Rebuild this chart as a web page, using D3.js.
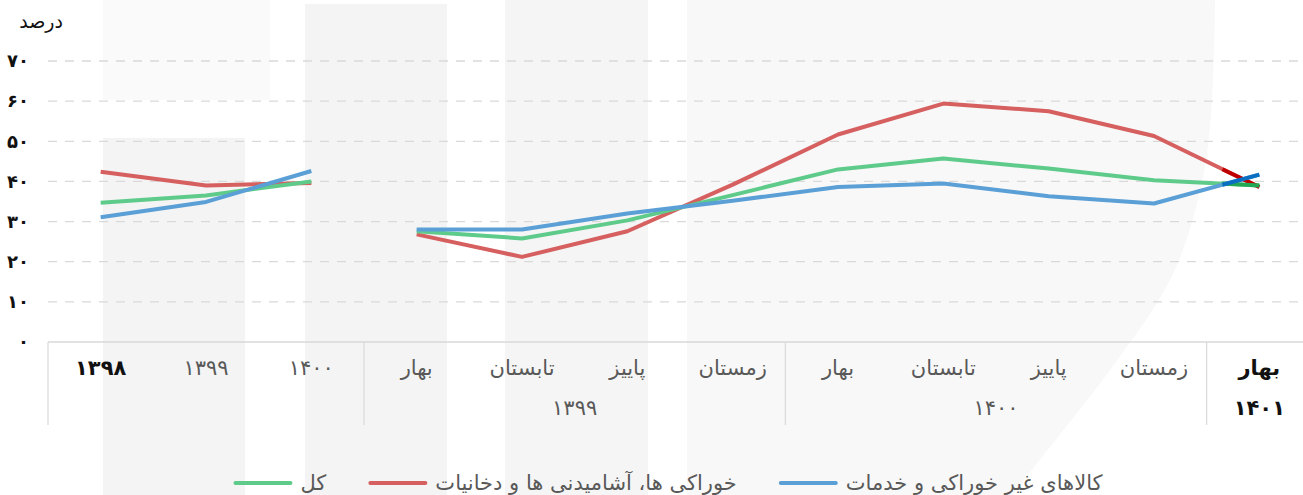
<!DOCTYPE html>
<html lang="fa">

<head>
    <meta charset="UTF-8">
    <title>نرخ تورم</title>
    <script src="https://d3js.org/d3.v7.min.js"></script>
    <style>
        body { margin: 0; background: #fff; }
        text { font-family: "DejaVu Sans", sans-serif; }
    </style>
</head>

<body>
    <script>
        // categories (3 annual + 9 quarterly)
        var categories = ["۱۳۹۸", "۱۳۹۹", "۱۴۰۰", "بهار", "تابستان", "پاییز", "زمستان", "بهار", "تابستان", "پاییز", "زمستان", "بهار"];
        var boldCategory = [true, false, false, false, false, false, false, false, false, false, false, true];
        var groupLabels = ["", "۱۳۹۹", "۱۴۰۰", "۱۴۰۱"];
        var groupSpans = [3, 4, 4, 1];
        var yTicks = [0, 10, 20, 30, 40, 50, 60, 70];

        // series values (percent)
        var totalValues = [34.7, 36.5, 40.0, 27.6, 25.8, 30.3, 36.6, 43.0, 45.7, 43.2, 40.3, 39.0];
        var foodValues = [42.4, 39.0, 39.6, 26.8, 21.2, 27.6, 39.2, 51.7, 59.4, 57.5, 51.3, 38.6];
        var nonFoodValues = [31.1, 34.9, 42.6, 28.0, 28.0, 32.0, 35.2, 38.6, 39.5, 36.3, 34.5, 41.7];
        var seriesNames = ["کل", "خوراکی ها، آشامیدنی ها و دخانیات", "کالاهای غیر خوراکی و خدمات"];

        var breakAfter = 2; // annual part and quarterly part are not joined

        // drawing order: red at the back, blue on top
        var series = [
            { name: seriesNames[1], values: foodValues, color: "#d65f5f", dark: "#c00000" },
            { name: seriesNames[0], values: totalValues, color: "#5ecb8b", dark: "#22a855" },
            { name: seriesNames[2], values: nonFoodValues, color: "#5a9fd6", dark: "#0a6fc2" }
        ];

        var width = 1303, height = 495;
        var faDigits = function (n) { return String(n).replace(/\d/g, function (c) { return "۰۱۲۳۴۵۶۷۸۹"[c]; }); };

        var svg = d3.select("body").append("svg")
            .attr("width", width)
            .attr("height", height);

        // faint watermark behind the chart
        var wm = svg.append("g");
        wm.append("rect").attr("x", 103).attr("y", 0).attr("width", 167).attr("height", 100).attr("fill", "#fafafa");
        wm.append("rect").attr("x", 103).attr("y", 138).attr("width", 142).attr("height", height - 138).attr("fill", "#f4f4f4");
        wm.append("rect").attr("x", 305).attr("y", 4).attr("width", 142).attr("height", height - 4).attr("fill", "#f4f4f4");
        wm.append("rect").attr("x", 505).attr("y", 0).attr("width", 143).attr("height", height).attr("fill", "#f5f5f5");
        var arcEdge = [[1215, 0], [1212, 100], [1198, 200], [1170, 280], [1110, 370], [1050, 447], [1012, 495]];
        wm.append("path")
            .attr("d", d3.line().curve(d3.curveMonotoneY)(arcEdge) + "L687,495L687,0Z")
            .attr("fill", "#f8f8f8");

        var x = d3.scaleBand()
            .domain(d3.range(categories.length))
            .range([48, 1312]);

        var y = d3.scaleLinear()
            .domain([0, 70])
            .range([342, 61]);

        // grid lines
        svg.append("g")
            .selectAll("line")
            .data(yTicks.filter(function (d) { return d > 0; }))
            .enter().append("line")
            .attr("x1", 48).attr("x2", width)
            .attr("y1", function (d) { return y(d); })
            .attr("y2", function (d) { return y(d); })
            .attr("stroke", "#d9d9d9")
            .attr("stroke-width", 1.3)
            .attr("stroke-dasharray", "9,8");

        // y axis labels
        var yAxis = d3.axisLeft(y).tickValues(yTicks).tickSize(0).tickPadding(0).tickFormat(faDigits);
        svg.append("g")
            .attr("transform", "translate(29,0)")
            .call(yAxis)
            .call(function (g) { g.select(".domain").remove(); })
            .selectAll("text")
            .attr("font-family", "DejaVu Sans")
            .attr("font-size", 18)
            .attr("font-weight", "bold")
            .attr("fill", "#111");

        svg.append("text")
            .attr("x", 63).attr("y", 28)
            .attr("text-anchor", "end")
            .attr("font-size", 19)
            .attr("fill", "#111")
            .text("درصد");

        // category axis
        svg.append("line")
            .attr("x1", 48).attr("x2", width)
            .attr("y1", y(0)).attr("y2", y(0))
            .attr("stroke", "#d9d9d9").attr("stroke-width", 1.3);

        var bounds = [0];
        groupSpans.forEach(function (s, i) { bounds.push(bounds[i] + s); });

        svg.append("g")
            .selectAll("line")
            .data(bounds.slice(0, -1))
            .enter().append("line")
            .attr("x1", function (d) { return x(d); })
            .attr("x2", function (d) { return x(d); })
            .attr("y1", y(0)).attr("y2", 425)
            .attr("stroke", "#d9d9d9").attr("stroke-width", 1.2);

        svg.append("g")
            .selectAll("text")
            .data(categories)
            .enter().append("text")
            .attr("x", function (d, i) { return x(i) + x.bandwidth() / 2; })
            .attr("y", 375)
            .attr("text-anchor", "middle")
            .attr("font-size", 21)
            .attr("font-weight", function (d, i) { return boldCategory[i] ? "bold" : "normal"; })
            .attr("fill", function (d, i) { return boldCategory[i] ? "#111" : "#595959"; })
            .text(function (d) { return d; });

        svg.append("g")
            .selectAll("text")
            .data(groupLabels)
            .enter().append("text")
            .attr("x", function (d, i) { return (x(bounds[i]) + x(bounds[i + 1] - 1) + x.bandwidth()) / 2; })
            .attr("y", 415)
            .attr("text-anchor", "middle")
            .attr("font-size", 21)
            .attr("font-weight", function (d, i) { return i === 3 ? "bold" : "normal"; })
            .attr("fill", function (d, i) { return i === 3 ? "#111" : "#595959"; })
            .text(function (d) { return d; });

        // lines
        var line = d3.line()
            .x(function (d) { return x(d.i) + x.bandwidth() / 2; })
            .y(function (d) { return y(d.v); });

        series.forEach(function (s) {
            var pts = s.values.map(function (v, i) { return { i: i, v: v }; });
            [pts.slice(0, breakAfter + 1), pts.slice(breakAfter + 1)].forEach(function (seg) {
                svg.append("path")
                    .attr("d", line(seg))
                    .attr("fill", "none")
                    .attr("stroke", s.color)
                    .attr("stroke-width", 4)
                    .attr("stroke-linejoin", "round");
            });
        });

        // last segment highlighted in a darker tone
        series.forEach(function (s) {
            var n = s.values.length;
            var x0 = x(n - 2) + x.bandwidth() / 2, x1 = x(n - 1) + x.bandwidth() / 2;
            var y0 = y(s.values[n - 2]), y1 = y(s.values[n - 1]);
            var t = 0.65;
            svg.append("line")
                .attr("x1", x0 + (x1 - x0) * t).attr("y1", y0 + (y1 - y0) * t)
                .attr("x2", x1).attr("y2", y1)
                .attr("stroke", s.dark)
                .attr("stroke-width", 4);
        });

        // legend: کل, food, non-food
        var legend = svg.append("g");
        var lx = 0;
        seriesNames.forEach(function (name) {
            var s = series.filter(function (d) { return d.name === name; })[0];
            var item = legend.append("g").attr("transform", "translate(" + lx + ",0)");
            item.append("line")
                .attr("x1", 0).attr("x2", 55)
                .attr("y1", 0).attr("y2", 0)
                .attr("stroke", s.color)
                .attr("stroke-width", 4)
                .attr("stroke-linecap", "round");
            var t = item.append("text")
                .attr("x", 65).attr("y", 7)
                .attr("font-size", 21)
                .attr("fill", "#595959")
                .text(s.name);
            lx += 65 + t.node().getComputedTextLength() + 44;
        });
        legend.attr("transform", "translate(" + (669 - (lx - 44) / 2) + ",483)");
    </script>
</body>

</html>
